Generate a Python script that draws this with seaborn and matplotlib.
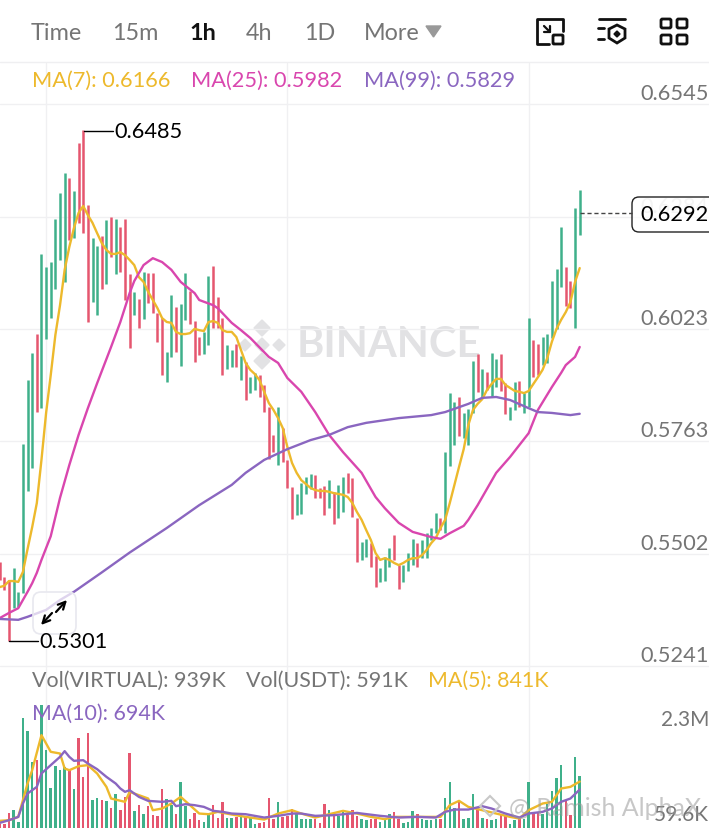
import numpy as np
import pandas as pd
import matplotlib.pyplot as plt
from matplotlib.patches import FancyBboxPatch, Polygon
import seaborn as sns

# Candles
highs = [.5483,.5448,.5441,.5469,.5414,.5757,.5905,.5968,.6012,.6198,.6168,.6179,.6279,.6339,.6386,.6374,.6344,.6455,.6485,.6311,
         .6235,.6216,.6240,.6277,.6284,.6279,.6260,.6279,.6151,.6110,.6093,.6156,.6154,.6154,.6061,.6049,.5970,.6103,.6075,.6082,
         .6154,.6112,.6042,.6005,.6017,.6147,.6170,.6098,.6049,.5987,.5975,.5989,.5961,.5947,.5912,.5922,.5917,.5894,.5843,.5778,
         .5843,.5794,.5720,.5657,.5641,.5666,.5680,.5687,.5685,.5655,.5660,.5673,.5646,.5662,.5680,.5690,.5678,.5585,.5530,.5537,
         .5527,.5497,.5469,.5495,.5516,.5546,.5476,.5476,.5504,.5537,.5527,.5534,.5550,.5562,.5597,.5585,.5738,.5875,.5854,.5866,
         .5829,.5838,.5950,.5966,.5931,.5924,.5968,.5954,.5966,.5898,.5843,.5901,.5903,.5875,.6049,.5998,.5989,.6005,.6012,.6135,
         .6163,.6260,.6168,.6135,.6304,.6346]
lows = [.5441,.5418,.5301,.5376,.5379,.5411,.5648,.5701,.5831,.5840,.6000,.6049,.6117,.6184,.6133,.6230,.6235,.6270,.6246,.6040,
        .6086,.6056,.6117,.6128,.6191,.6151,.6156,.6091,.5980,.6056,.6026,.6047,.6084,.6061,.5994,.5917,.5901,.5959,.5970,.5938,
        .6045,.6035,.5947,.5963,.5966,.5987,.6026,.6026,.5917,.5931,.5936,.5936,.5905,.5859,.5875,.5882,.5866,.5831,.5722,.5738,
        .5708,.5715,.5655,.5583,.5592,.5594,.5641,.5653,.5632,.5632,.5592,.5608,.5571,.5585,.5599,.5643,.5588,.5483,.5488,.5495,
        .5472,.5425,.5437,.5439,.5472,.5488,.5421,.5437,.5462,.5476,.5472,.5492,.5492,.5534,.5550,.5557,.5550,.5706,.5755,.5775,
        .5771,.5755,.5829,.5878,.5866,.5882,.5866,.5889,.5880,.5827,.5813,.5836,.5843,.5829,.5843,.5912,.5917,.5940,.5945,.6003,
        .6024,.6121,.6077,.6072,.6026,.6242]
red_candles = [0,1,2,8,15,17,18,19,22,24,26,27,28,30,32,33,34,35,38,41,42,43,46,47,48,51,53,56,57,58,59,61,62,63,68,69,70,72,
               75,76,77,80,81,85,86,90,95,99,103,105,108,109,112,115,116,122,123]

# Price moving averages
ma7 = [.5425,.5428,.5439,.5439,.5437,.5460,.5513,.5564,.5620,.5720,.5829,.5917,.6010,.6079,.6161,.6214,.6258,.6293,.6309,.6288,
       .6270,.6246,.6223,.6207,.6198,.6198,.6202,.6195,.6184,.6172,.6144,.6133,.6110,.6091,.6072,.6049,.6040,.6038,.6017,.6012,
       .6012,.6014,.6024,.6021,.6019,.6040,.6042,.6038,.6021,.6017,.6017,.6005,.5975,.5945,.5929,.5919,.5905,.5878,.5852,.5836,
       .5817,.5794,.5750,.5713,.5690,.5673,.5664,.5655,.5650,.5648,.5648,.5646,.5643,.5641,.5639,.5634,.5620,.5599,.5581,.5557,
       .5534,.5504,.5488,.5492,.5488,.5481,.5476,.5481,.5488,.5492,.5492,.5499,.5511,.5527,.5539,.5562,.5581,.5620,.5662,.5704,
       .5745,.5801,.5836,.5850,.5861,.5882,.5896,.5908,.5908,.5894,.5887,.5880,.5878,.5875,.5880,.5896,.5912,.5929,.5956,.5994,
       .6024,.6045,.6063,.6086,.6133,.6165]
ma25_idx = [0,2,4,5,6,7,8,9,11,13,15,17,19,21,24,26,28,29,31,33,35,37,39,42,43,46,47,50,52,54,58,60,62,65,68,71,74,78,81,83,86,89,
            93,95,97,100,101,103,107,110,114,116,119,121,122,124,125]
ma25 = [.5353,.5365,.5376,.5395,.5414,.5434,.5458,.5488,.5543,.5632,.5708,.5778,.5840,.5898,.5982,.6040,.6107,.6135,.6172,.6188,
        .6179,.6161,.6133,.6107,.6091,.6079,.6072,.6038,.6021,.6003,.5959,.5945,.5910,.5878,.5831,.5778,.5738,.5690,.5634,.5608,
        .5574,.5553,.5541,.5537,.5550,.5567,.5581,.5615,.5690,.5727,.5782,.5836,.5889,.5922,.5940,.5959,.5982]
ma99_idx = [0,4,6,10,13,16,22,28,36,43,50,53,57,62,67,71,75,79,86,93,96,101,104,107,110,114,116,119,123,125]
ma99 = [.5351,.5349,.5356,.5372,.5395,.5414,.5459,.5505,.5562,.5615,.5662,.5690,.5720,.5745,.5766,.5778,.5796,.5806,.5817,.5824,
        .5831,.5850,.5864,.5866,.5859,.5840,.5831,.5829,.5824,.5827]

# Volume, thousands
volume = [73,73,268,329,104,1995,1763,1202,1232,2239,1415,732,1129,1049,1110,1049,702,1629,927,1720,
          500,543,512,488,360,622,317,561,1366,299,421,256,390,226,214,702,531,409,256,836,
          390,165,275,134,104,256,421,183,458,183,183,195,195,214,195,73,85,104,537,153,
          458,195,214,348,256,165,153,153,153,92,439,317,214,214,287,226,317,214,165,134,
          153,165,104,134,256,287,153,92,104,299,256,165,134,146,165,165,540,836,366,458,
          165,177,622,348,177,165,134,165,226,226,73,134,165,165,836,287,287,256,439,671,
          915,1153,512,226,1287,939]
vol_ma5_idx = [0,2,4,5,6,7,9,11,13,14,15,17,19,21,23,24,27,28,30,32,33,35,37,39,41,43,45,47,50,53,57,60,63,65,68,71,74,77,
               80,83,85,88,92,95,97,99,101,104,107,110,112,114,117,119,121,123,125]
vol_ma5 = [122,134,195,500,805,1049,1690,1385,1354,1080,1049,1122,1141,988,744,531,470,653,592,531,317,348,439,561,409,256,244,287,
           238,195,146,256,317,256,183,244,305,256,195,153,195,195,195,195,409,488,378,317,256,195,165,317,439,470,714,744,841]
vol_ma10_idx = [0,2,4,5,6,8,9,11,13,14,15,16,18,19,21,23,25,26,27,28,30,32,35,37,38,40,42,44,46,48,50,53,57,60,63,65,68,72,77,
                78,82,86,90,94,96,98,101,104,106,109,112,114,117,119,121,123,125]
vol_ma10 = [85,134,195,439,622,744,989,1141,1293,1397,1293,1220,1232,1171,1067,927,805,714,653,683,561,488,470,488,391,427,409,378,
            305,287,256,244,183,214,256,256,214,226,268,256,214,183,195,183,287,329,329,390,348,256,183,256,287,348,470,531,694]

price_labels = [0.6545, 0.6284, 0.6023, 0.5763, 0.5502, 0.5241]
time_grid = [10, 62, 114]
tabs = [("Time", 31), ("15m", 112), ("1h", 189), ("4h", 246), ("1D", 304), ("More", 364)]

GREEN = "#3fb08a"
RED = "#e5566f"
YELLOW = "#edb92c"
MAGENTA = "#d946ae"
PURPLE = "#8a66c0"
GREY = "#757575"
GRID = "#f0f0f2"

sns.set_theme(style="white")
plt.rcParams["font.family"] = ["Lato", "DejaVu Sans"]

W, H = 709, 833
fig = plt.figure(figsize=(W / 100, H / 100), dpi=100, facecolor="white")


def px_axes(left, top, right, bottom, **kw):
    return fig.add_axes([left / W, 1 - bottom / H, (right - left) / W, (bottom - top) / H], **kw)


# Candles sit 4.64 px apart and start at the left edge of the picture
xlim = ((0 + 0.3) / 4.64, (W + 0.3) / 4.64)

back = px_axes(0, 0, W, H, zorder=0)
back.set_xlim(0, W)
back.set_ylim(H, 0)
back.axis("off")
ax = px_axes(0, 63, W, 668, zorder=1, facecolor="none")
ax_vol = px_axes(0, 668, W, 830, zorder=1, facecolor="none")
front = px_axes(0, 0, W, H, zorder=3, facecolor="none")
front.set_xlim(0, W)
front.set_ylim(H, 0)
front.axis("off")

# Watermarks go under the candles
back.text(297, 345, "BINANCE", fontsize=30, fontweight="bold", color="#e2e2e4", va="center", ha="left")
for cx, cy, r in [(262, 328, 8), (262, 361, 8), (245, 345, 6), (279, 345, 6), (262, 345, 7)]:
    back.add_patch(Polygon([(cx - r, cy), (cx, cy - r), (cx + r, cy), (cx, cy + r)], color="#e2e2e4"))

# Candles
candles = pd.DataFrame({"i": np.arange(len(highs)), "high": highs, "low": lows})
candles["dir"] = np.where(candles["i"].isin(red_candles), "down", "up")
long = candles.melt(id_vars=["i", "dir"], value_vars=["high", "low"], value_name="price")
palette = {"up": GREEN, "down": RED}
sns.lineplot(data=long, x="i", y="price", hue="dir", units="i", estimator=None, sort=False, palette=palette,
             linewidth=1.8, solid_capstyle="butt", legend=False, ax=ax)

# Moving averages
sns.lineplot(x=np.arange(len(ma7)), y=ma7, color=YELLOW, linewidth=1.7, ax=ax, zorder=4)
sns.lineplot(x=ma25_idx, y=ma25, color=MAGENTA, linewidth=1.7, ax=ax, zorder=4)
sns.lineplot(x=ma99_idx, y=ma99, color=PURPLE, linewidth=1.7, ax=ax, zorder=4)

ax.set_xlim(*xlim)
ax.set_ylim(0.6787 - 0.000232 * 668, 0.6787 - 0.000232 * 63)
ax.set_xticks(time_grid)
ax.set_yticks(price_labels)
ax.set_xticklabels([])
ax.set_yticklabels([])
ax.set_xlabel("")
ax.set_ylabel("")
ax.grid(True, color=GRID, linewidth=1)
ax.set_axisbelow(True)
ax.tick_params(length=0)
sns.despine(ax=ax, left=True, bottom=True, right=True, top=True)

for p in price_labels:
    if p == 0.6284:
        col = "#d8d8d8"
    else:
        col = GREY
    ax.annotate(f"{p:.4f}", (1, p), xycoords=("axes fraction", "data"), xytext=(-0.3, 7.2), textcoords="offset points",
                ha="right", va="center", fontsize=15.7, color=col)

# Volume panel
vol = pd.DataFrame({"i": candles["i"], "vol": volume, "dir": candles["dir"]})
sns.barplot(data=vol, x="i", y="vol", hue="dir", palette=palette, native_scale=True, dodge=False, width=0.55,
            saturation=1, legend=False, linewidth=0, ax=ax_vol)
sns.lineplot(x=vol_ma5_idx, y=vol_ma5, color=YELLOW, linewidth=1.7, ax=ax_vol, zorder=4)
sns.lineplot(x=vol_ma10_idx, y=vol_ma10, color=PURPLE, linewidth=1.7, ax=ax_vol, zorder=4)
ax_vol.set_xlim(*xlim)
ax_vol.set_ylim(-45, 2918)
ax_vol.set_xticks(time_grid)
ax_vol.set_yticks([])
ax_vol.set_xticklabels([])
ax_vol.set_xlabel("")
ax_vol.set_ylabel("")
ax_vol.grid(True, axis="x", color=GRID, linewidth=1)
ax_vol.set_axisbelow(True)
ax_vol.tick_params(length=0)
sns.despine(ax=ax_vol, left=True, bottom=True, right=True, top=True)

# Header
front.plot([0, W], [62, 62], color="#efeff1", lw=1)
for name, x in tabs:
    if name == "1h":
        front.text(x, 33, name, fontsize=16.8, color="#111111", fontweight="bold", va="center")
    else:
        front.text(x, 33, name, fontsize=16.8, color=GREY, va="center")
front.add_patch(Polygon([(426, 26), (441, 26), (433.5, 37)], color="#999999"))

# Toolbar icons
lw_icon = 2
front.plot([563, 563, 537, 537, 549], [31, 19, 19, 44, 44], color="#111111", lw=lw_icon)
front.add_patch(FancyBboxPatch((553, 35), 10, 9, boxstyle="round,pad=0,rounding_size=1", fill=False, ec="#111111", lw=lw_icon))
front.plot([544, 550, 550], [26, 32, 26], color="#111111", lw=1.6)
front.plot([544, 550], [32, 32], color="#111111", lw=1.6)
front.plot([599, 625], [19, 19], color="#111111", lw=lw_icon)
front.plot([598, 604], [28, 28], color="#111111", lw=lw_icon)
front.plot([598, 604], [39, 39], color="#111111", lw=lw_icon)
front.add_patch(Polygon([(617, 25), (625, 29), (625, 38), (617, 43), (609, 38), (609, 29)], fill=False, ec="#111111", lw=lw_icon))
front.add_patch(Polygon([(617, 31), (620, 34), (617, 37), (614, 34)], color="#111111"))
for x0, y0 in [(661, 19), (677, 19), (661, 35), (677, 35)]:
    front.add_patch(FancyBboxPatch((x0, y0), 10, 9, boxstyle="round,pad=0,rounding_size=1.5", fill=False, ec="#111111", lw=lw_icon))

# Legend rows
front.text(32, 81, "MA(7): 0.6166", fontsize=15.7, color=YELLOW, va="center")
front.text(191, 81, "MA(25): 0.5982", fontsize=15.7, color=MAGENTA, va="center")
front.text(364, 81, "MA(99): 0.5829", fontsize=15.7, color=PURPLE, va="center")
front.text(32, 681, "Vol(VIRTUAL): 939K", fontsize=15.4, color=GREY, va="center")
front.text(246, 681, "Vol(USDT): 591K", fontsize=15.4, color=GREY, va="center")
front.text(428, 681, "MA(5): 841K", fontsize=15.4, color=YELLOW, va="center")
front.text(32, 714, "MA(10): 694K", fontsize=15.4, color=PURPLE, va="center")
front.text(709, 720, "2.3M", fontsize=15, color=GREY, va="center", ha="right")
front.text(709, 815, "59.6K", fontsize=15, color=GREY, va="center", ha="right")

# High and low markers
front.plot([84, 113], [130.5, 130.5], color="black", lw=1)
front.text(114, 132, "0.6485", fontsize=15.7, color="black", va="center")
front.plot([9, 38], [641, 641], color="black", lw=1)
front.text(39, 642, "0.5301", fontsize=15.7, color="black", va="center")

# Last price tag
front.plot([580, 632], [213, 213], color="#444444", lw=1, ls=(0, (3, 2)))
front.add_patch(FancyBboxPatch((632, 197), 90, 35, boxstyle="round,pad=0,rounding_size=7", fc=(1, 1, 1, 0.72), ec="#222222", lw=1))
front.text(709, 215, "0.6292", fontsize=15.7, color="black", va="center", ha="right")

# Expand button
front.add_patch(FancyBboxPatch((33, 592), 43, 42, boxstyle="round,pad=0,rounding_size=8", fc=(1, 1, 1, 0.72), ec="#e8e8ef", lw=1.2))
front.annotate("", xy=(41, 625), xytext=(52, 613),
               arrowprops=dict(arrowstyle="->", color="black", lw=1.6, shrinkA=0, shrinkB=0, mutation_scale=13))
front.annotate("", xy=(67, 600), xytext=(56, 612),
               arrowprops=dict(arrowstyle="->", color="black", lw=1.6, shrinkA=0, shrinkB=0, mutation_scale=13))

# Author watermark
front.add_patch(Polygon([(480, 806), (490, 796), (500, 806), (490, 816)], fill=False, ec="#c8c8c8", lw=1.5))
front.text(509, 808, "@ Ramish AlphaX", fontsize=18, color="#9a9a9a", alpha=0.55, va="center")

fig.savefig("out.png", dpi=100)
